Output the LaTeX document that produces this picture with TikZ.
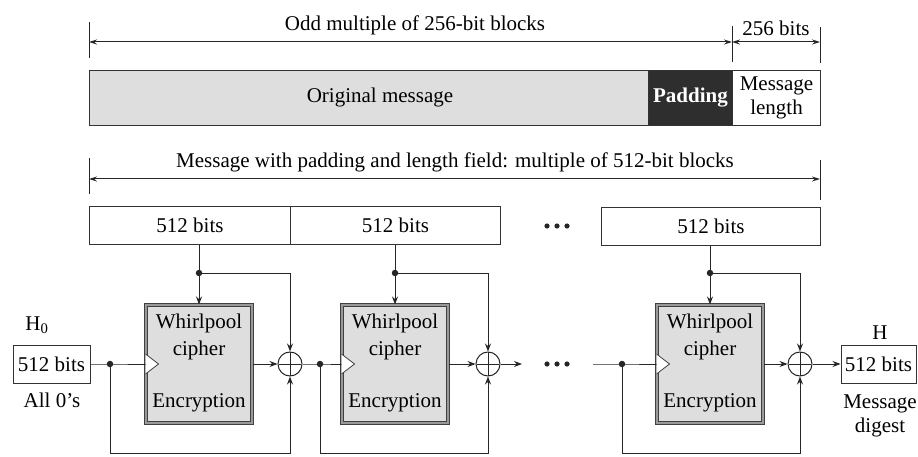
\documentclass[tikz,border=0pt]{standalone}
\usepackage{fontspec}
\setmainfont{Liberation Serif}
\usetikzlibrary{arrows.meta,calc}
\begin{document}
\begin{tikzpicture}[x=1pt,y=-1pt,
  every node/.style={font=\fontsize{21}{24}\selectfont, inner sep=0pt},
  ln/.style={line width=1pt, draw=black!85},
  arr/.style={ln,-{Stealth[length=8pt,width=6pt]}},
  dim/.style={ln,{Stealth[length=8pt,width=5pt]}-{Stealth[length=8pt,width=5pt]}},
  box/.style={draw=black!80, line width=1pt, anchor=north west},
  cipher/.style={draw=black!75, line width=1pt, double=black!40, double distance=1.8pt, fill=black!13, minimum width=106pt, minimum height=118pt},
  xor/.style={circle, draw=black!85, line width=1pt, minimum size=24pt,
    path picture={\draw[line width=0.8pt,black!85] ($(path picture bounding box.north)+(0,-1)$) -- ($(path picture bounding box.south)+(0,1)$) ($(path picture bounding box.west)+(1,0)$) -- ($(path picture bounding box.east)+(-1,0)$);}},
  jdot/.style={circle, fill=black!85, minimum size=6.5pt},
  clk/.style={draw=black!75, fill=white, line width=0.8pt},
]
\useasboundingbox (0,0) rectangle (918,457);

% ---- top dimension lines
\coordinate (t1a) at (89,22);  \coordinate (t1b) at (89,58);
\coordinate (t2a) at (732,26); \coordinate (t2b) at (732,62);
\coordinate (t3a) at (820,27); \coordinate (t3b) at (820,63);
\draw[ln] (t1a) -- (t1b);
\draw[ln] (t2a) -- (t2b);
\draw[ln] (t3a) -- (t3b);
\coordinate (d1l) at (89,42); \coordinate (d1r) at (732,42); \coordinate (d2r) at (820,42);
\draw[dim] (d1l) -- (d1r);
\draw[dim] (d1r) -- (d2r);
\node (oddtxt) at (415,25) {Odd multiple of 256-bit blocks};
\node (bitstxt) at (776,28) {256 bits};

% ---- message bar
\node[box, fill=black!13, minimum width=559pt, minimum height=55pt] (msg) at (89,70) {};
\node (msgtxt) at (380,97) {Original message};
\node[box, fill=black!82, text=white, font=\fontsize{21}{24}\selectfont\bfseries, minimum width=84pt, minimum height=55pt] (pad) at (648,70) {Padding};
\node[box, fill=white, minimum width=88pt, minimum height=55pt, align=center] (len) at (732,70) {Message\\length};

% ---- second dimension line
\coordinate (u1a) at (89,158);  \coordinate (u1b) at (89,194);
\coordinate (u2a) at (820,160); \coordinate (u2b) at (820,200);
\draw[ln] (u1a) -- (u1b);
\draw[ln] (u2a) -- (u2b);
\coordinate (e1l) at (89,179); \coordinate (e1r) at (820,179);
\draw[dim] (e1l) -- (e1r);
\node (mwtxt) at (455,162) {Message with padding and length field: multiple of 512-bit blocks};

% ---- 512-bit blocks
\node[box, minimum width=201pt, minimum height=38pt] (b1) at (89,206) {512 bits};
\node[box, minimum width=210pt, minimum height=38pt] (b2) at (290,206) {512 bits};
\node[box, minimum width=219pt, minimum height=38pt] (b3) at (601,207) {512 bits};
\foreach \dx in {-10,0,10} \fill[black!85] (557+\dx,226) circle (2.6);

% ---- ciphers
\foreach \n/\x in {1/199,2/395,3/710}{
  \node[cipher] (c\n) at (\x,364) {};
  \node (cw\n) at ($(c\n.north)+(0,19)$) {Whirlpool};
  \node (cc\n) at ($(c\n.north)+(0,46)$) {cipher};
  \node (ce\n) at ($(c\n.south)+(0,-21)$) {Encryption};
}

% ---- xors
\node[xor] (x1) at (290,364) {};
\node[xor] (x2) at (488,364) {};
\node[xor] (x3) at (800,364) {};

% ---- junction dots
\node[jdot] (j1) at (199,273) {};
\node[jdot] (j2) at (395,273) {};
\node[jdot] (j3) at (710,273) {};
\node[jdot] (p1) at (110,364) {};
\node[jdot] (p2) at (320,364) {};
\node[jdot] (p3) at (622,364) {};

% ---- H0 and H
\node[draw=black!80, line width=1pt, minimum width=77pt, minimum height=38pt] (h0) at (51.5,364) {512 bits};
\node (h0lab) at (37,325) {H\textsubscript{0}};
\node (h0zero) at (52,400) {All 0's};
\node[draw=black!80, line width=1pt, minimum width=75pt, minimum height=38pt] (hout) at (878.5,364) {512 bits};
\node (hlab) at (880,333) {H};
\node[align=center] (hdig) at (880,416) {Message\\digest};

% ---- block to cipher
\draw[arr] (b1.south -| c1) -- (c1.north);
\draw[arr] (b2.south -| c2) -- (c2.north);
\draw[arr] (b3.south -| c3) -- (c3.north);
\draw[arr] (j1.center) -| (x1.north);
\draw[arr] (j2.center) -| (x2.north);
\draw[arr] (j3.center) -| (x3.north);

% ---- chaining
\draw[ln] (h0.east) -- (p1.center) -- (c1.west);
\draw[arr] (c1.east) -- (x1.west);
\draw[ln] (x1.east) -- (p2.center) -- (c2.west);
\draw[arr] (c2.east) -- (x2.west);
\coordinate (e2) at (522,364);
\draw[arr] (x2.east) -- (e2);
\foreach \dx in {-10,0,10} \fill[black!85] (557+\dx,364) circle (2.6);
\coordinate (s3) at (593,364);
\draw[ln] (s3) -- (p3.center) -- (c3.west);
\draw[arr] (c3.east) -- (x3.west);
\draw[arr] (x3.east) -- (hout.west);

% ---- feedback
\coordinate (bot) at (0,453);
\draw[arr] (p1.center) -- (p1 |- bot) -| (x1.south);
\draw[arr] (p2.center) -- (p2 |- bot) -| (x2.south);
\draw[arr] (p3.center) -- (p3 |- bot) -| (x3.south);

% clock triangles on top of lines
\foreach \n in {1,2,3}{
  \draw[clk] ($(c\n.west)+(0,-10)$) -- ($(c\n.west)+(13,0)$) -- ($(c\n.west)+(0,10)$);
}
\end{tikzpicture}
\end{document}
